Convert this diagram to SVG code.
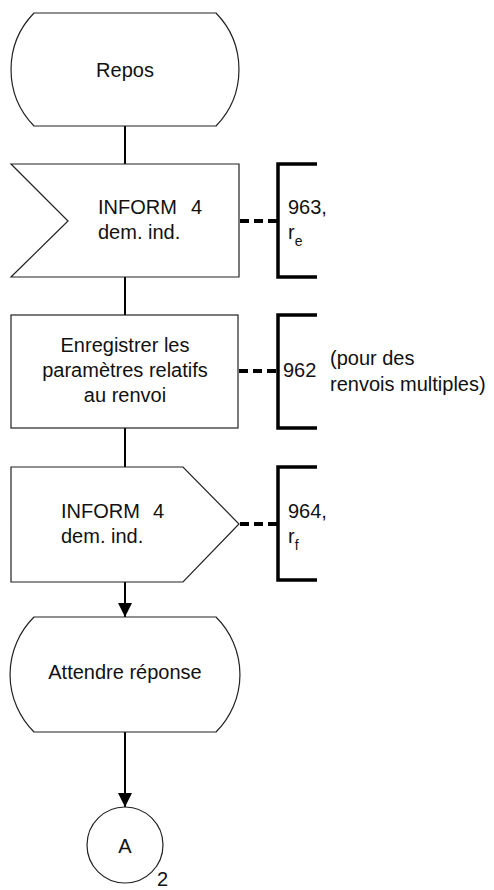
<svg xmlns="http://www.w3.org/2000/svg" width="494" height="890" viewBox="0 0 494 890">
<style>
.shape{fill:#fff;stroke:#222;stroke-width:1.2}
.flow{stroke:#000;stroke-width:2;fill:none}
.dash{stroke:#000;stroke-width:4;stroke-dasharray:9 5;fill:none}
.brk{stroke:#000;stroke-width:3.5;fill:none}
text{font-family:"Liberation Sans",Arial,sans-serif;font-size:20px;fill:#111}
.c{text-anchor:middle}
.sub{font-size:14px}
</style>
<defs>
<marker id="arr" markerWidth="14" markerHeight="14" refX="14" refY="7" orient="auto" markerUnits="userSpaceOnUse" viewBox="0 0 14 14">
<path d="M0,0 L14,7 L0,14 Z" fill="#000"/>
</marker>
</defs>
<g id="connectors">
<line class="flow" x1="125" y1="126" x2="125" y2="164"/>
<line class="flow" x1="125" y1="277" x2="125" y2="315"/>
<line class="flow" x1="125" y1="428" x2="125" y2="467"/>
<line class="flow" x1="125" y1="582" x2="125" y2="617" marker-end="url(#arr)"/>
<line class="flow" x1="125" y1="732" x2="125" y2="807" marker-end="url(#arr)"/>
<line class="dash" x1="240" y1="221" x2="278" y2="221"/>
<line class="dash" x1="239" y1="371" x2="278" y2="371"/>
<line class="dash" x1="240" y1="524" x2="278" y2="524"/>
</g>
<g id="repos">
<path class="shape" d="M34,13 H216 A81,81 0 0 1 216,126 H34 A81,81 0 0 1 34,13 Z"/>
<text class="c" x="125" y="77">Repos</text>
</g>
<g id="input1">
<path class="shape" d="M11,164 H239 V277 H11 L68,221 Z"/>
<text x="98" y="214">INFORM <tspan x="191">4</tspan></text>
<text x="98" y="239">dem. ind.</text>
</g>
<g id="comment1">
<path class="brk" d="M317,164 H278 V277 H317"/>
<text x="288" y="214">963,</text>
<text x="288" y="239">r<tspan class="sub" dy="7">e</tspan></text>
</g>
<g id="task">
<rect class="shape" x="11" y="315" width="227" height="113"/>
<text class="c" x="125" y="352">Enregistrer les</text>
<text class="c" x="125" y="377">paramètres relatifs</text>
<text class="c" x="125" y="402">au renvoi</text>
</g>
<g id="comment2">
<path class="brk" d="M317,315 H278 V428 H317"/>
<text x="283" y="377">962</text>
<text x="330" y="365">(pour des</text>
<text x="330" y="391">renvois multiples)</text>
</g>
<g id="output1">
<path class="shape" d="M11,467 H183 L239,524 L183,582 H11 Z"/>
<text x="61" y="518">INFORM <tspan x="153">4</tspan></text>
<text x="61" y="543">dem. ind.</text>
</g>
<g id="comment3">
<path class="brk" d="M317,467 H278 V580 H317"/>
<text x="288" y="518">964,</text>
<text x="288" y="543">r<tspan class="sub" dy="7">f</tspan></text>
</g>
<g id="attendre">
<path class="shape" d="M34,617 H216 A81,81 0 0 1 216,732 H34 A81,81 0 0 1 34,617 Z"/>
<text class="c" x="125" y="679">Attendre réponse</text>
</g>
<g id="connectorA">
<circle class="shape" cx="125" cy="845" r="38"/>
<text class="c" x="125" y="853">A</text>
<text x="157" y="886">2</text>
</g>
</svg>
